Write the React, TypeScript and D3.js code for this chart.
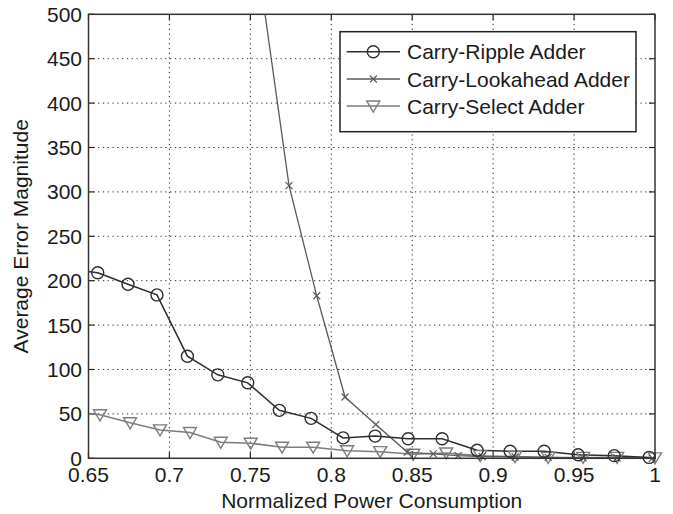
import React from "react";
import * as d3 from "d3";

const xTicks = [0.65, 0.7, 0.75, 0.8, 0.85, 0.9, 0.95, 1];
const xTickLabels = ["0.65", "0.7", "0.75", "0.8", "0.85", "0.9", "0.95", "1"];
const yTicks = [0, 50, 100, 150, 200, 250, 300, 350, 400, 450, 500];

const seriesNames = ["Carry-Ripple Adder", "Carry-Lookahead Adder", "Carry-Select Adder"];

const rippleX = [0.637, 0.6557, 0.6744, 0.6923, 0.7111, 0.7299, 0.7484, 0.7679, 0.7875, 0.8073, 0.8271, 0.8475, 0.8685, 0.8901, 0.9105, 0.9315, 0.9525, 0.9748, 0.9964];
const rippleY = [213, 209, 196, 184, 115, 94, 85, 54, 45, 23, 25, 22, 22, 9, 8, 8, 4, 3, 1];

const lookX = [0.756, 0.7739, 0.791, 0.8085, 0.8275, 0.8469, 0.863, 0.8784, 0.8932, 0.9136, 0.934, 0.9556, 0.9766, 0.9983];
const lookY = [540, 307, 183, 69, 38, 7, 5, 3, 2, 1.5, 1, 0.5, 0.5, 0];

const selectX = [0.638, 0.6571, 0.6757, 0.6942, 0.7127, 0.7317, 0.7502, 0.7696, 0.7888, 0.8098, 0.8302, 0.8506, 0.871, 0.892, 0.9135, 0.934, 0.9556, 0.9766, 1.0];
const selectY = [53, 49, 40, 32, 29, 18, 17, 12.5, 12.5, 8.5, 7.5, 4.5, 6, 3, 2, 1, 1, 1, 0.5];

const FONT = "Liberation Sans, Arial, sans-serif";

export default function App() {
  const W = 673, H = 514;
  const L = 88.5, R = 655, T = 14.3, B = 458.3;
  const x = d3.scaleLinear().domain([0.65, 1]).range([L, R]);
  const y = d3.scaleLinear().domain([0, 500]).range([B, T]);
  const line = d3.line<[number, number]>().x((d) => x(d[0])).y((d) => y(d[1]));

  const zip = (xs: number[], ys: number[]) => xs.map((v, i) => [v, ys[i]] as [number, number]);
  const ripple = zip(rippleX, rippleY);
  const look = zip(lookX, lookY);
  const sel = zip(selectX, selectY);
  const inside = (d: [number, number]) => d[0] >= 0.65 - 1e-9 && d[0] <= 1 + 1e-9 && d[1] <= 500 && d[1] >= 0;

  const cRipple = "#2e2e2e";
  const cLook = "#5a5a5a";
  const cSel = "#7d7d7d";

  const circle = (cx: number, cy: number, k: string, col: string) => (
    <circle key={k} cx={cx} cy={cy} r={6} fill="none" stroke={col} strokeWidth={1.4} />
  );
  const cross = (cx: number, cy: number, k: string, col: string) => (
    <path key={k} d={`M${cx - 3.5},${cy - 3.5}L${cx + 3.5},${cy + 3.5}M${cx - 3.5},${cy + 3.5}L${cx + 3.5},${cy - 3.5}`} stroke={col} strokeWidth={1.2} fill="none" />
  );
  const tri = (cx: number, cy: number, k: string, col: string) => (
    <path key={k} d={`M${cx - 6.5},${cy - 5}L${cx + 6.5},${cy - 5}L${cx},${cy + 6}Z`} stroke={col} strokeWidth={1.4} fill="none" />
  );

  const legX = 340, legY = 31.7, legW = 296, legH = 100;
  const legRows = [51.7, 79, 106];
  const FS = 21;

  return (
    <svg width={W} height={H} style={{ position: "absolute", left: 0, top: 0, background: "#fff" }} fontFamily={FONT}>
      <defs>
        <clipPath id="plot">
          <rect x={L} y={T} width={R - L} height={B - T} />
        </clipPath>
      </defs>
      <rect x={0} y={0} width={W} height={H} fill="#fff" />
      {/* grid */}
      {xTicks.slice(1, -1).map((t, i) => (
        <line key={"gx" + i} x1={x(t)} x2={x(t)} y1={T} y2={B} stroke="#222" strokeWidth={1} strokeDasharray="1.2,3.6" />
      ))}
      {yTicks.slice(1, -1).map((t, i) => (
        <line key={"gy" + i} x1={L} x2={R} y1={y(t)} y2={y(t)} stroke="#222" strokeWidth={1} strokeDasharray="1.2,3.6" />
      ))}
      {/* ticks */}
      {xTicks.map((t, i) => (
        <g key={"tx" + i}>
          <line x1={x(t)} x2={x(t)} y1={B} y2={B - 6} stroke="#222" strokeWidth={1.2} />
          <line x1={x(t)} x2={x(t)} y1={T} y2={T + 6} stroke="#222" strokeWidth={1.2} />
          <text x={x(t)} y={482} textAnchor="middle" fontSize={FS} fill="#1a1a1a">{xTickLabels[i]}</text>
        </g>
      ))}
      {yTicks.map((t, i) => (
        <g key={"ty" + i}>
          <line x1={L} x2={L + 6} y1={y(t)} y2={y(t)} stroke="#222" strokeWidth={1.2} />
          <line x1={R} x2={R - 6} y1={y(t)} y2={y(t)} stroke="#222" strokeWidth={1.2} />
          <text x={82} y={y(t) + 7.5} textAnchor="end" fontSize={FS} fill="#1a1a1a">{t}</text>
        </g>
      ))}
      {/* series */}
      <g clipPath="url(#plot)">
        <path d={line(sel) || ""} fill="none" stroke={cSel} strokeWidth={1.5} />
        <path d={line(look) || ""} fill="none" stroke={cLook} strokeWidth={1.3} />
        <path d={line(ripple) || ""} fill="none" stroke={cRipple} strokeWidth={1.5} />
      </g>
      {sel.filter(inside).map((d, i) => tri(x(d[0]), y(d[1]), "s" + i, cSel))}
      {look.filter(inside).map((d, i) => cross(x(d[0]), y(d[1]), "l" + i, cLook))}
      {ripple.filter(inside).map((d, i) => circle(x(d[0]), y(d[1]), "r" + i, cRipple))}
      {/* axes box */}
      <rect x={L} y={T} width={R - L} height={B - T} fill="none" stroke="#333" strokeWidth={1.5} />
      {/* axis labels */}
      <text x={(L + R) / 2} y={508} textAnchor="middle" fontSize={FS} fill="#1a1a1a">Normalized Power Consumption</text>
      <text transform={`translate(28,${(T + B) / 2}) rotate(-90)`} textAnchor="middle" fontSize={FS} fill="#1a1a1a">Average Error Magnitude</text>
      {/* legend */}
      <rect x={legX} y={legY} width={legW} height={legH} fill="#fff" stroke="#222" strokeWidth={1.5} />
      {legRows.map((ly, i) => {
        const col = [cRipple, cLook, cSel][i];
        const mk = [circle, cross, tri][i];
        return (
          <g key={"leg" + i}>
            <line x1={346.7} x2={400} y1={ly} y2={ly} stroke={col} strokeWidth={1.5} />
            {mk(373.3, ly, "lm" + i, col)}
            <text x={407} y={ly + 7.5} fontSize={FS} fill="#1a1a1a">{seriesNames[i]}</text>
          </g>
        );
      })}
    </svg>
  );
}
